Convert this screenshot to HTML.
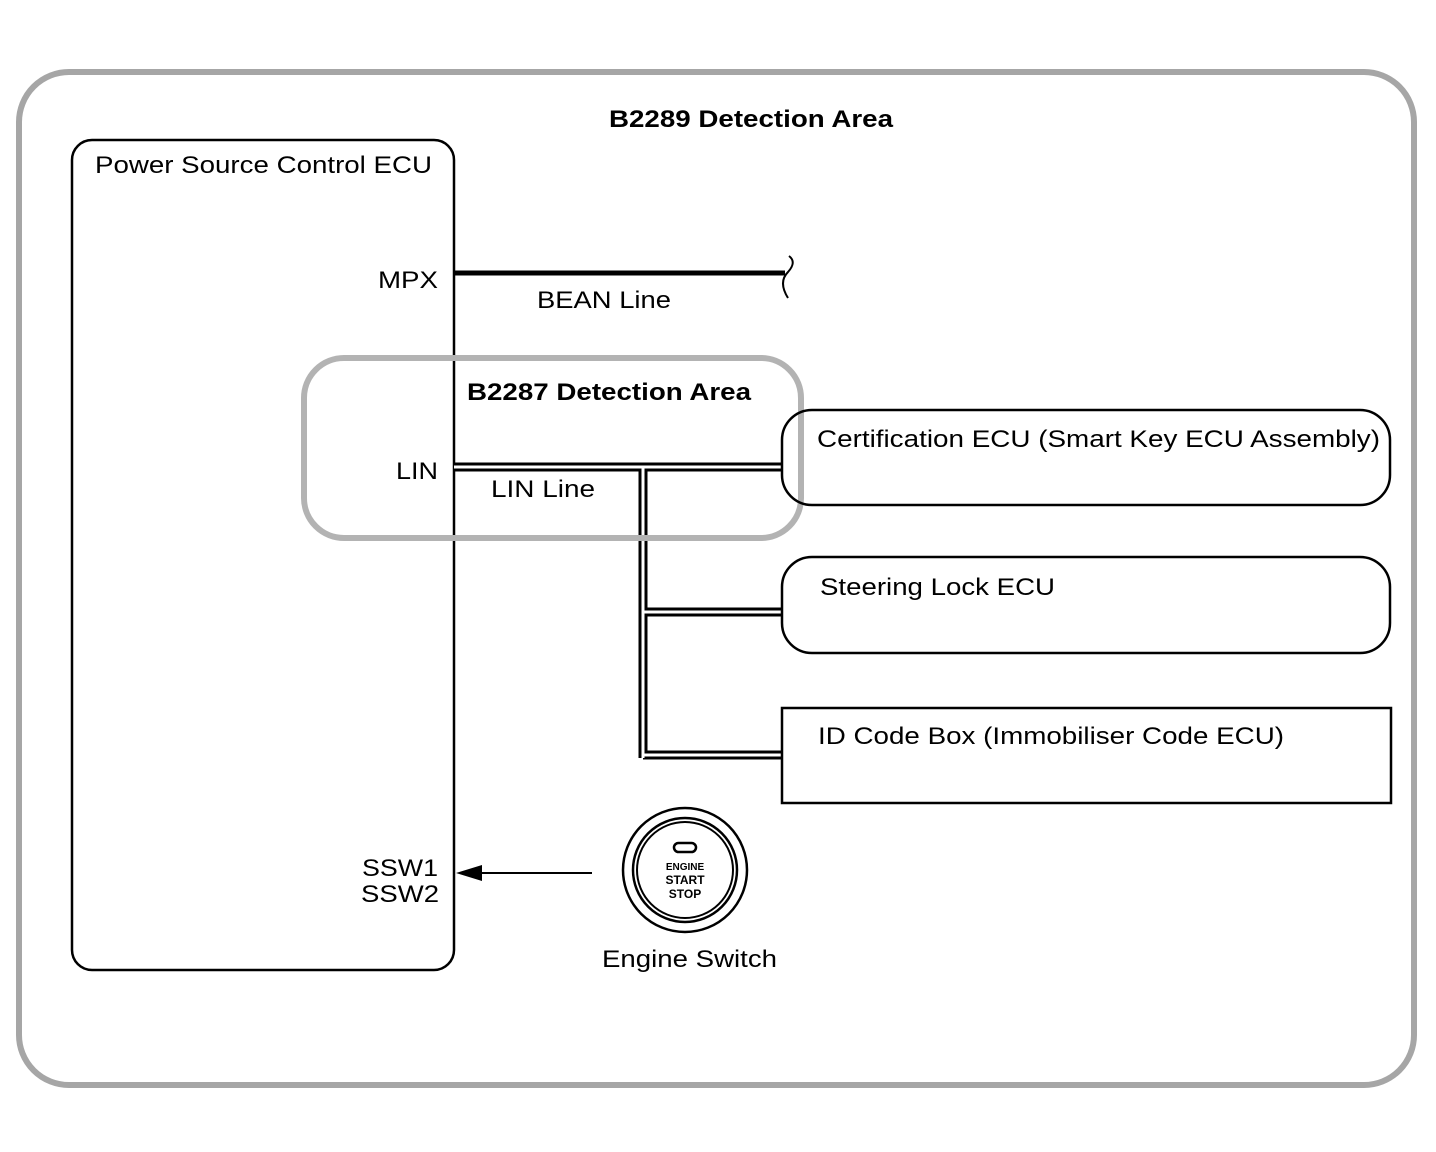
<!DOCTYPE html>
<html><head><meta charset="utf-8"><style>body{margin:0;background:#fff}svg{display:block}text{font-family:"Liberation Sans",sans-serif;fill:#000}</style></head><body>
<svg width="1436" height="1152" viewBox="0 0 1436 1152" xmlns="http://www.w3.org/2000/svg">
<rect x="19" y="72" width="1395" height="1013" rx="50" fill="none" stroke="#a6a6a6" stroke-width="6"/>
<text x="609" y="127" font-size="24" font-weight="bold" textLength="284" lengthAdjust="spacingAndGlyphs">B2289 Detection Area</text>
<rect x="72" y="140" width="382" height="830" rx="20" fill="none" stroke="#000" stroke-width="2.5"/>
<text x="95" y="173" font-size="24" textLength="337" lengthAdjust="spacingAndGlyphs">Power Source Control ECU</text>
<text x="378" y="288" font-size="24" textLength="60" lengthAdjust="spacingAndGlyphs">MPX</text>
<line x1="454" y1="273" x2="785" y2="273" stroke="#000" stroke-width="5"/>
<path d="M789 256 Q797 262 788 272 Q778 282 788 298" fill="none" stroke="#000" stroke-width="2"/>
<text x="537" y="308" font-size="24" textLength="134" lengthAdjust="spacingAndGlyphs">BEAN Line</text>
<text x="396" y="479" font-size="24" textLength="42" lengthAdjust="spacingAndGlyphs">LIN</text>
<g fill="none" stroke-linejoin="miter">
<path d="M454 467 H782 M643 467 V758 M643 612 H782 M643 755 H782" stroke="#000" stroke-width="9"/>
<path d="M454 467 H782 M643 467 V758 M643 612 H782 M643 755 H782" stroke="#fff" stroke-width="3"/>
</g>
<text x="491" y="497" font-size="24" textLength="104" lengthAdjust="spacingAndGlyphs">LIN Line</text>
<rect x="304" y="358" width="497" height="180" rx="40" fill="none" stroke="#b3b3b3" stroke-width="6"/>
<text x="467" y="400" font-size="24" font-weight="bold" textLength="284" lengthAdjust="spacingAndGlyphs">B2287 Detection Area</text>
<rect x="782" y="410" width="608" height="95" rx="30" fill="none" stroke="#000" stroke-width="2.5"/>
<text x="817" y="447" font-size="24" textLength="563" lengthAdjust="spacingAndGlyphs">Certification ECU (Smart Key ECU Assembly)</text>
<rect x="782" y="557" width="608" height="96" rx="30" fill="none" stroke="#000" stroke-width="2.5"/>
<text x="820" y="595" font-size="24" textLength="235" lengthAdjust="spacingAndGlyphs">Steering Lock ECU</text>
<rect x="782" y="708" width="609" height="95" fill="none" stroke="#000" stroke-width="2.5"/>
<text x="818" y="744" font-size="24" textLength="466" lengthAdjust="spacingAndGlyphs">ID Code Box (Immobiliser Code ECU)</text>
<text x="362" y="876" font-size="24" textLength="76" lengthAdjust="spacingAndGlyphs">SSW1</text>
<text x="361" y="902" font-size="24" textLength="78" lengthAdjust="spacingAndGlyphs">SSW2</text>
<line x1="480" y1="873" x2="592" y2="873" stroke="#000" stroke-width="2"/>
<polygon points="456,873 482,865 482,881" fill="#000"/>
<circle cx="685" cy="870" r="62" fill="none" stroke="#000" stroke-width="2.5"/>
<circle cx="685" cy="870" r="52" fill="none" stroke="#000" stroke-width="2.5"/>
<circle cx="685" cy="870" r="48" fill="none" stroke="#000" stroke-width="2"/>
<rect x="674" y="843" width="22" height="9" rx="4.5" fill="none" stroke="#000" stroke-width="2.5"/>
<text x="685" y="870" font-size="10" font-weight="bold" text-anchor="middle">ENGINE</text>
<text x="685" y="884" font-size="12" font-weight="bold" text-anchor="middle">START</text>
<text x="685" y="898" font-size="12" font-weight="bold" text-anchor="middle">STOP</text>
<text x="602" y="967" font-size="24" textLength="175" lengthAdjust="spacingAndGlyphs">Engine Switch</text>
</svg>
</body></html>
